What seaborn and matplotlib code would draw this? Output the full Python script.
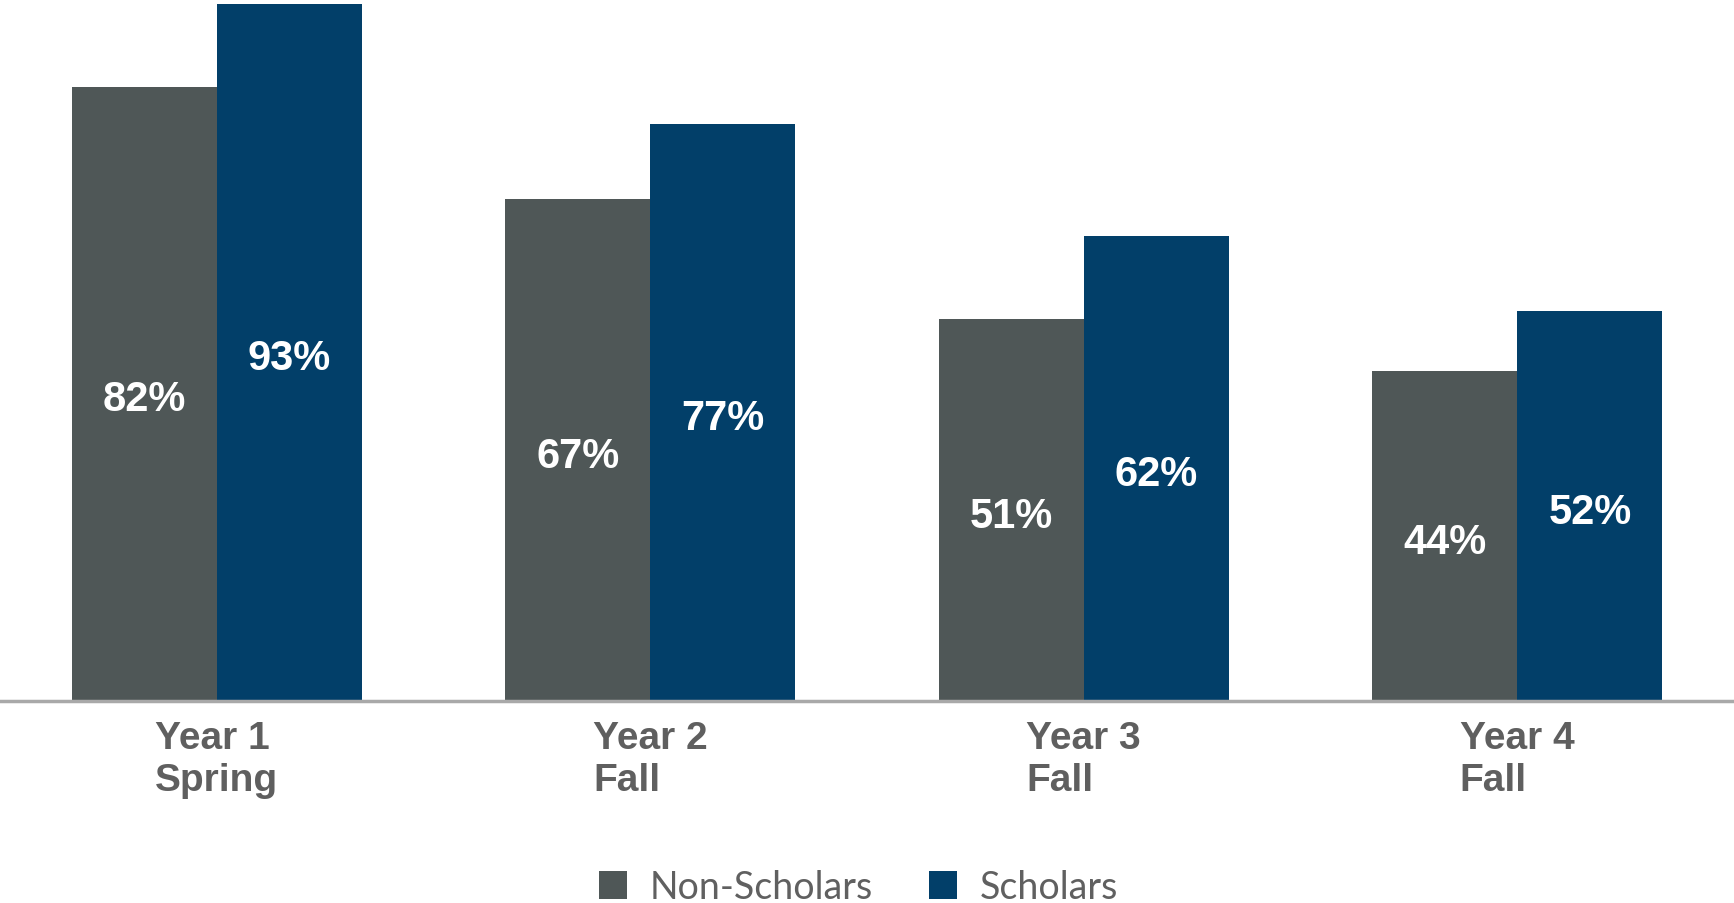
import pandas as pd
import matplotlib.pyplot as plt
import seaborn as sns
from matplotlib.patches import Patch

# Données
periodes = ["Year 1\nSpring", "Year 2\nFall", "Year 3\nFall", "Year 4\nFall"]
groupes = ["Non-Scholars", "Scholars"]
non_scholars = [82, 67, 51, 44]
scholars = [93, 77, 62, 52]

couleurs = {"Non-Scholars": "#4f5757", "Scholars": "#023f69"}

df = pd.DataFrame({
    "Periode": periodes * 2,
    "Groupe": ["Non-Scholars"] * len(periodes) + ["Scholars"] * len(periodes),
    "Valeur": non_scholars + scholars,
})

sns.set_theme(style="white")
plt.rcParams["font.family"] = ["Liberation Sans", "DejaVu Sans"]

fig = plt.figure(figsize=(17.34, 9.04), dpi=100)
ax = fig.add_axes([0, 1 - 702 / 904, 1, 702 / 904])

sns.barplot(data=df, x="Periode", y="Valeur", hue="Groupe", order=periodes,
            hue_order=groupes, palette=couleurs, width=0.67, gap=0,
            saturation=1, legend=False, linewidth=0, ax=ax)

# Étiquettes au centre des barres
for cont, vals in zip(ax.containers, [non_scholars, scholars]):
    ax.bar_label(cont, labels=[f"{v}%" for v in vals], label_type="center",
                 color="white", fontsize=30, fontweight="bold", padding=-4)

ax.set_xlim(-0.5, 3.5)
ax.set_ylim(0, 93.7)
ax.set_xlabel("")
ax.set_ylabel("")
ax.set_yticks([])
for s in ["top", "left", "right"]:
    ax.spines[s].set_visible(False)
ax.spines["bottom"].set_color("#a9a9a9")
ax.spines["bottom"].set_linewidth(2.5)
ax.tick_params(axis="x", length=0, pad=14)
for lab in ax.get_xticklabels():
    lab.set_fontsize(28)
    lab.set_fontweight("bold")
    lab.set_color("#5f5f5f")
    lab.set_multialignment("left")
    lab.set_linespacing(1.2)

# Légende
handles = [Patch(facecolor=couleurs[g], edgecolor="none", label=g) for g in groupes]
fig.legend(handles=handles, loc="center", bbox_to_anchor=(0.495, 1 - 888 / 904),
           ncol=2, frameon=False, handlelength=0.75, handleheight=0.75,
           handletextpad=0.6, columnspacing=1.5,
           prop={"family": "Lato", "size": 27}, labelcolor="#606060")

fig.savefig("out.png", dpi=100)
